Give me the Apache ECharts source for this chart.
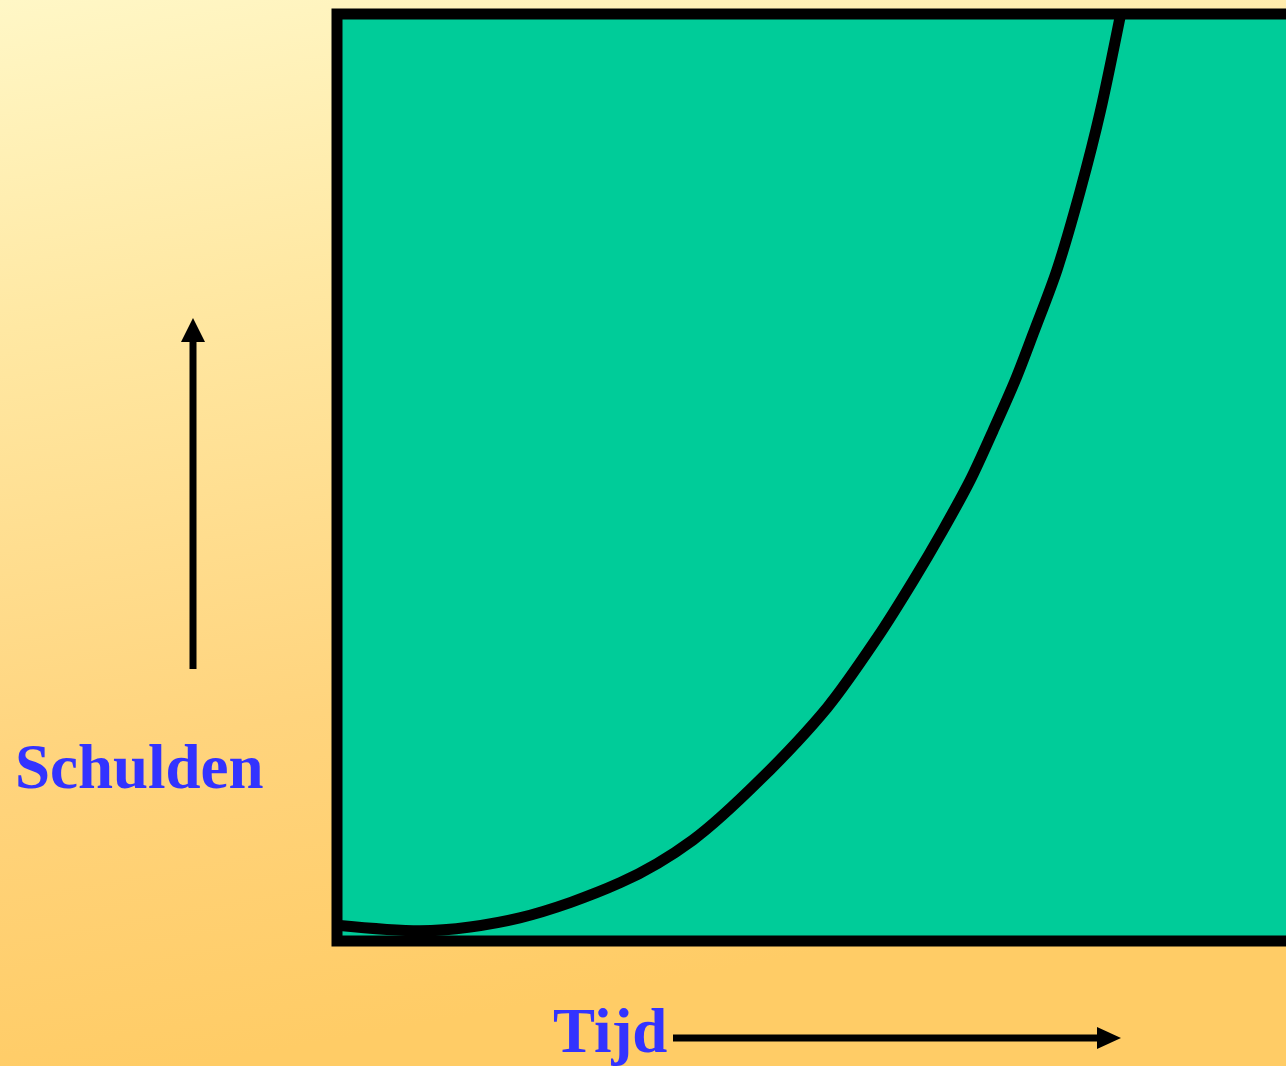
<!DOCTYPE html>
<html>
<head>
<meta charset="utf-8">
<title>Schulden</title>
<script src="https://cdn.jsdelivr.net/npm/echarts@6/dist/echarts.min.js"></script>
<style>
  html, body { margin: 0; padding: 0; }
  #main { width: 1286px; height: 1066px; }
</style>
</head>
<body>
<div id="main"></div>
<script>
// tijd (x) en schulden (y), 0..100
var tijd = [0, 7.9, 17.4, 27.0, 33.9, 40.3, 46.7, 51.5, 54.9, 57.7, 60.3, 62.5, 64.6, 66.3, 68.6, 70.8, 72.7, 74.6];
var schulden = [1.7, 1.1, 2.5, 6.3, 10.9, 17.4, 25.2, 32.8, 38.9, 44.3, 49.7, 55.1, 60.5, 65.5, 72.5, 81.0, 89.5, 99.8];
var yLabel = 'Schulden';
var xLabel = 'Tijd';

var myChart = echarts.init(document.getElementById('main'));

var points = tijd.map(function (t, i) {
    return [t, schulden[i]];
});

var option = {
    animation: false,
    backgroundColor: {
        type: 'linear', x: 0, y: 0, x2: 0.15, y2: 1,
        colorStops: [
            { offset: 0, color: '#FFF7C6' },
            { offset: 0.3, color: '#FFE8A3' },
            { offset: 0.7, color: '#FFD47D' },
            { offset: 1, color: '#FFCC66' }
        ]
    },
    grid: {
        show: true,
        outerBoundsMode: 'none',
        containLabel: false,
        left: 337,
        top: 14,
        width: 1050,
        height: 927,
        backgroundColor: '#00CC99',
        borderColor: '#000',
        borderWidth: 11
    },
    xAxis: { type: 'value', min: 0, max: 100, show: false },
    yAxis: { type: 'value', min: 0, max: 100, show: false },
    series: [{
        type: 'line',
        data: points,
        smooth: 0.3,
        symbol: 'none',
        lineStyle: { color: '#000', width: 11 }
    }],
    graphic: [
        // pijl omhoog
        { type: 'line', shape: { x1: 193, y1: 669, x2: 193, y2: 338 }, style: { stroke: '#000', lineWidth: 7 } },
        { type: 'polygon', shape: { points: [[181, 342], [205, 342], [193, 318]] }, style: { fill: '#000' } },
        // pijl naar rechts
        { type: 'line', shape: { x1: 673, y1: 1038, x2: 1102, y2: 1038 }, style: { stroke: '#000', lineWidth: 7 } },
        { type: 'polygon', shape: { points: [[1097, 1027], [1097, 1049], [1121, 1038]] }, style: { fill: '#000' } },
        {
            type: 'text', left: 15, top: 740,
            style: { text: yLabel, fill: '#3333FF', font: 'bold 63px "Liberation Serif", "DejaVu Serif", serif' }
        },
        {
            type: 'text', left: 553, top: 1004,
            style: { text: xLabel, fill: '#3333FF', font: 'bold 63px "Liberation Serif", "DejaVu Serif", serif' }
        }
    ]
};
myChart.setOption(option);
</script>
</body>
</html>
